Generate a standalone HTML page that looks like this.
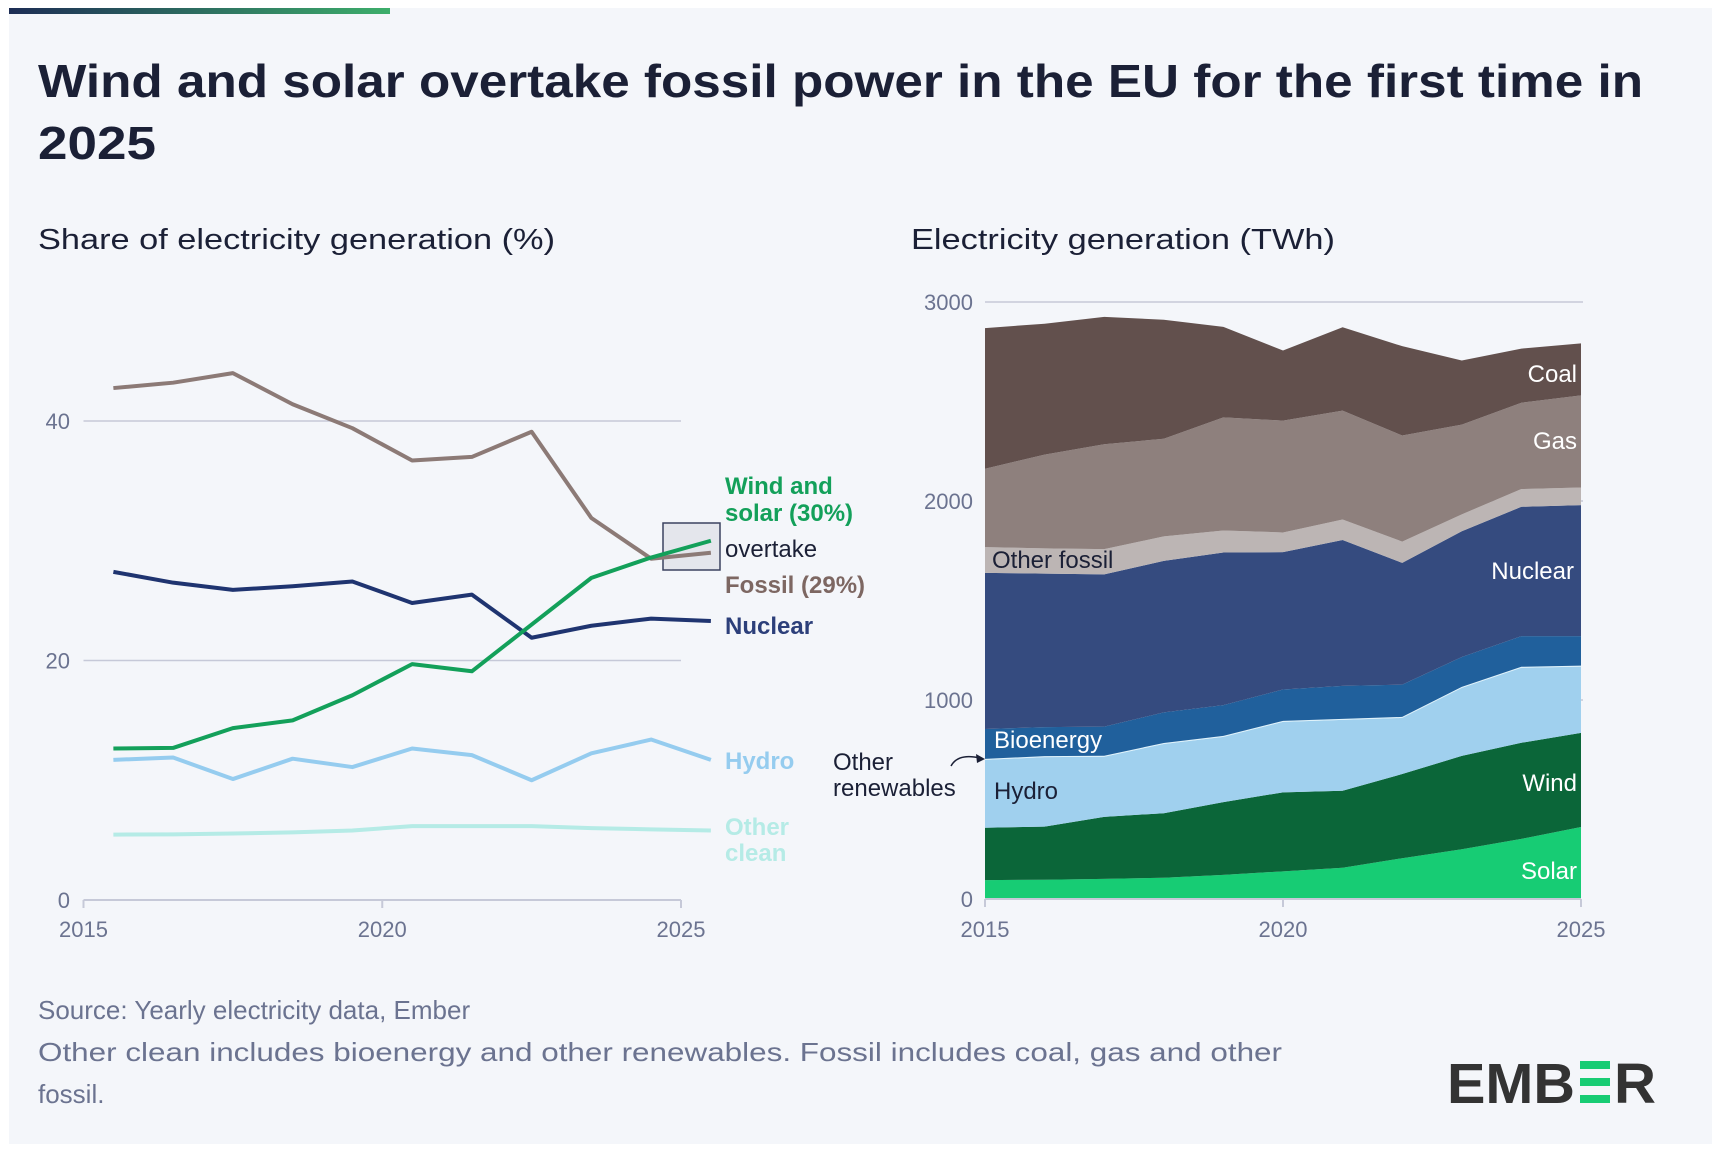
<!DOCTYPE html>
<html><head><meta charset="utf-8"><style>
html,body{margin:0;padding:0;background:#fff;}
svg{display:block;font-family:"Liberation Sans",sans-serif;}
</style></head><body>
<svg id="c" width="1720" height="1150" viewBox="0 0 1720 1150" xmlns="http://www.w3.org/2000/svg">
<defs><linearGradient id="tg" x1="0" x2="1"><stop offset="0" stop-color="#1d2d55"/><stop offset="1" stop-color="#3dae6b"/></linearGradient></defs>
<rect x="9" y="8" width="1703" height="1136" fill="#f4f6fa"/>
<rect x="9" y="8" width="381" height="6" fill="url(#tg)"/>
<text x="38" y="97" font-size="46" font-weight="bold" fill="#1b2036" textLength="1605" lengthAdjust="spacingAndGlyphs">Wind and solar overtake fossil power in the EU for the first time in</text>
<text x="38" y="159" font-size="46" font-weight="bold" fill="#1b2036" textLength="118" lengthAdjust="spacingAndGlyphs">2025</text>
<text x="38" y="249" font-size="29" fill="#1b2036" textLength="517" lengthAdjust="spacingAndGlyphs">Share of electricity generation (%)</text>
<text x="911" y="249" font-size="29" fill="#1b2036" textLength="424" lengthAdjust="spacingAndGlyphs">Electricity generation (TWh)</text>
<g id="left"></g>
<g id="right"></g>
<text x="38" y="1019" font-size="26" fill="#6b7390">Source: Yearly electricity data, Ember</text>
<text x="38" y="1061" font-size="26" fill="#6b7390" textLength="1244" lengthAdjust="spacingAndGlyphs">Other clean includes bioenergy and other renewables. Fossil includes coal, gas and other</text>
<text x="38" y="1103" font-size="26" fill="#6b7390">fossil.</text>
<g>
<text x="1447" y="1103" font-size="57" font-weight="bold" fill="#333333" textLength="128" lengthAdjust="spacingAndGlyphs">EMB</text>
<rect x="1580" y="1061" width="30" height="8" fill="#18cc74"/><rect x="1580" y="1078" width="30" height="8" fill="#18cc74"/><rect x="1580" y="1095" width="30" height="8" fill="#18cc74"/>
<text x="1614" y="1103" font-size="57" font-weight="bold" fill="#333333" textLength="42" lengthAdjust="spacingAndGlyphs">R</text>
</g>
</svg>
<script>
const NS="http://www.w3.org/2000/svg";
// ---- left chart data (%)
const years=[2015,2016,2017,2018,2019,2020,2021,2022,2023,2024,2025];
const fossilShare=[42.75,43.2,44.0,41.4,39.4,36.7,37.0,39.1,31.9,28.5,29.0];
const windSolarShare=[12.65,12.7,14.35,15.0,17.1,19.7,19.1,23.0,26.9,28.6,30.0];
const nuclearShare=[27.4,26.5,25.9,26.2,26.6,24.8,25.5,21.9,22.9,23.5,23.3];
const hydroShare=[11.7,11.9,10.1,11.8,11.1,12.65,12.1,10.0,12.25,13.4,11.7];
const otherCleanShare=[5.46,5.48,5.55,5.65,5.8,6.17,6.17,6.17,6.0,5.9,5.8];
const leftYTicks=[0,20,40];
const xTickLabels=[2015,2020,2025];
// ---- right chart data (TWh)
const solar=[95,97,101,107,121,139,157,205,250,302,362];
const wind=[263,267,312,324,366,397,387,423,469,483,473];
const hydro=[341,349,302,348,328,354,356,282,342,377,333];
const otherRenewables=[5,5,5,5,5,5,5,5,5,5,5];
const bioenergy=[150,146,146,154,154,158,166,162,150,154,148];
const nuclear=[785,771,765,761,767,690,733,612,632,650,658];
const otherFossil=[129,127,127,123,111,99,103,107,85,89,89];
const gas=[394,471,527,491,568,562,547,533,451,434,463];
const coal=[707,658,640,598,455,352,419,449,322,272,261];
const rightYTicks=[0,1000,2000,3000];

function el(tag,attrs,parent){const e=document.createElementNS(NS,tag);for(const k in attrs)e.setAttribute(k,attrs[k]);parent.appendChild(e);return e;}
function txt(s,attrs,parent){const e=el('text',attrs,parent);e.textContent=s;return e;}

// left axes
const L=document.getElementById('left');
const lx=y=>83.5+(y-2015)*(681-83.5)/10;
const ly=v=>900-v*(900-421)/40;
leftYTicks.forEach(t=>{
  if(t>0){const g=el('line',{x1:83.5,x2:681,y1:ly(t),y2:ly(t),stroke:'#c6c9d8','stroke-width':1.5},L);
  
  }
  const tl=txt(String(t),{x:70,y:ly(t)+8,'font-size':22,fill:'#6b7390','text-anchor':'end'},L);
  
  
});
const la=el('line',{x1:83.5,x2:681,y1:900,y2:900,stroke:'#c6c9d8','stroke-width':2},L);


xTickLabels.forEach(t=>{
  const tk=el('line',{x1:lx(t),x2:lx(t),y1:900,y2:908,stroke:'#c6c9d8','stroke-width':2},L);
  
  
  const tl=txt(String(t),{x:lx(t),y:937,'font-size':22,fill:'#6b7390','text-anchor':'middle'},L);
  
  
});
// overtake box
const bx=el('rect',{x:663,y:523,width:57,height:47,fill:'#e4e6ec',stroke:'#3b4260','stroke-width':1.5},L);


const series=[
 ['other-clean-line',otherCleanShare,'#b5ebe6'],
 ['hydro-line',hydroShare,'#95ccef'],
 ['nuclear-line',nuclearShare,'#1f3470'],
 ['fossil-line',fossilShare,'#8c7a76'],
 ['wind-solar-line',windSolarShare,'#13a05a']];
series.forEach(([n,d,c])=>{
  const p=el('polyline',{points:d.map((v,i)=>lx(years[i]+0.5)+','+ly(v)).join(' '),fill:'none',stroke:c,'stroke-width':4,'stroke-linejoin':'round'},L);
  
  
});
const labs=[['Wind and',494,'#13a05a','bold','wind-solar-label'],['solar (30%)',521,'#13a05a','bold','wind-solar-label-2'],['overtake',557,'#1b2036','normal','overtake-label'],['Fossil (29%)',593,'#7d6762','bold','fossil-label'],['Nuclear',634,'#2c3f7a','bold','nuclear-label'],['Hydro',769,'#95ccef','bold','hydro-label'],['Other',835,'#b5ebe6','bold','other-clean-label'],['clean',861,'#b5ebe6','bold','other-clean-label-2']];
labs.forEach(([s,y,c,w,n])=>{const t=txt(s,{x:725,y:y,'font-size':24,fill:c,'font-weight':w},L);
 
 });

// right chart
const R=document.getElementById('right');
const rx=y=>985+(y-2015)*(1581-985)/10;
const ry=v=>899-v*(899-302)/3000;
rightYTicks.forEach(t=>{
  if(t>0){const g=el('line',{x1:985,x2:1583,y1:ry(t),y2:ry(t),stroke:'#c6c9d8','stroke-width':1.5},R);
  
  }
  const tl=txt(String(t),{x:973,y:ry(t)+8,'font-size':22,fill:'#6b7390','text-anchor':'end'},R);
  
  
});
const layers=[['solar-area',solar,'#17cc74'],['wind-area',wind,'#0b6639'],['hydro-area',hydro,'#a0d0ee'],['other-renewables-area',otherRenewables,'#dff3fb'],['bioenergy-area',bioenergy,'#20609c'],['nuclear-area',nuclear,'#354b7f'],['other-fossil-area',otherFossil,'#bcb5b4'],['gas-area',gas,'#8e807d'],['coal-area',coal,'#62504d']];
let base=years.map(()=>0);
layers.forEach(([n,d,c])=>{
  const top=base.map((b,i)=>b+d[i]);
  const pts=top.map((v,i)=>rx(years[i])+','+ry(v)).concat(base.map((v,i)=>rx(years[i])+','+ry(v)).reverse());
  const p=el('polygon',{points:pts.join(' '),fill:c},R);
  
  
  base=top;
});
const ra=el('line',{x1:985,x2:1581,y1:899,y2:899,stroke:'#c6c9d8','stroke-width':2},R);


xTickLabels.forEach(t=>{
  const tk=el('line',{x1:rx(t),x2:rx(t),y1:899,y2:907,stroke:'#c6c9d8','stroke-width':2},R);
  
  
  const tl=txt(String(t),{x:rx(t),y:937,'font-size':22,fill:'#6b7390','text-anchor':'middle'},R);
  
  
});
const rl=[['Coal',1577,382,'#fff','end','coal-label'],['Gas',1577,449,'#fff','end','gas-label'],['Nuclear',1574,579,'#fff','end','nuclear-area-label'],['Wind',1577,791,'#fff','end','wind-label'],['Solar',1577,879,'#fff','end','solar-label'],['Other fossil',992,568,'#1b2036','start','other-fossil-label'],['Bioenergy',994,748,'#fff','start','bioenergy-label'],['Hydro',994,799,'#1b2036','start','hydro-area-label'],['Other',833,770,'#1b2036','start','other-renewables-label'],['renewables',833,796,'#1b2036','start','other-renewables-label-2']];
rl.forEach(([s,x,y,c,a,n])=>{const t=txt(s,{x:x,y:y,'font-size':24,fill:c,'text-anchor':a},R);
 
 });
const ar=el('path',{d:'M951,766 Q958,753 980,758',fill:'none',stroke:'#1b2036','stroke-width':1.5},R);


const ah=el('polygon',{points:'985,759 976,754 977,763',fill:'#1b2036'},R);


</script>
</body></html>
